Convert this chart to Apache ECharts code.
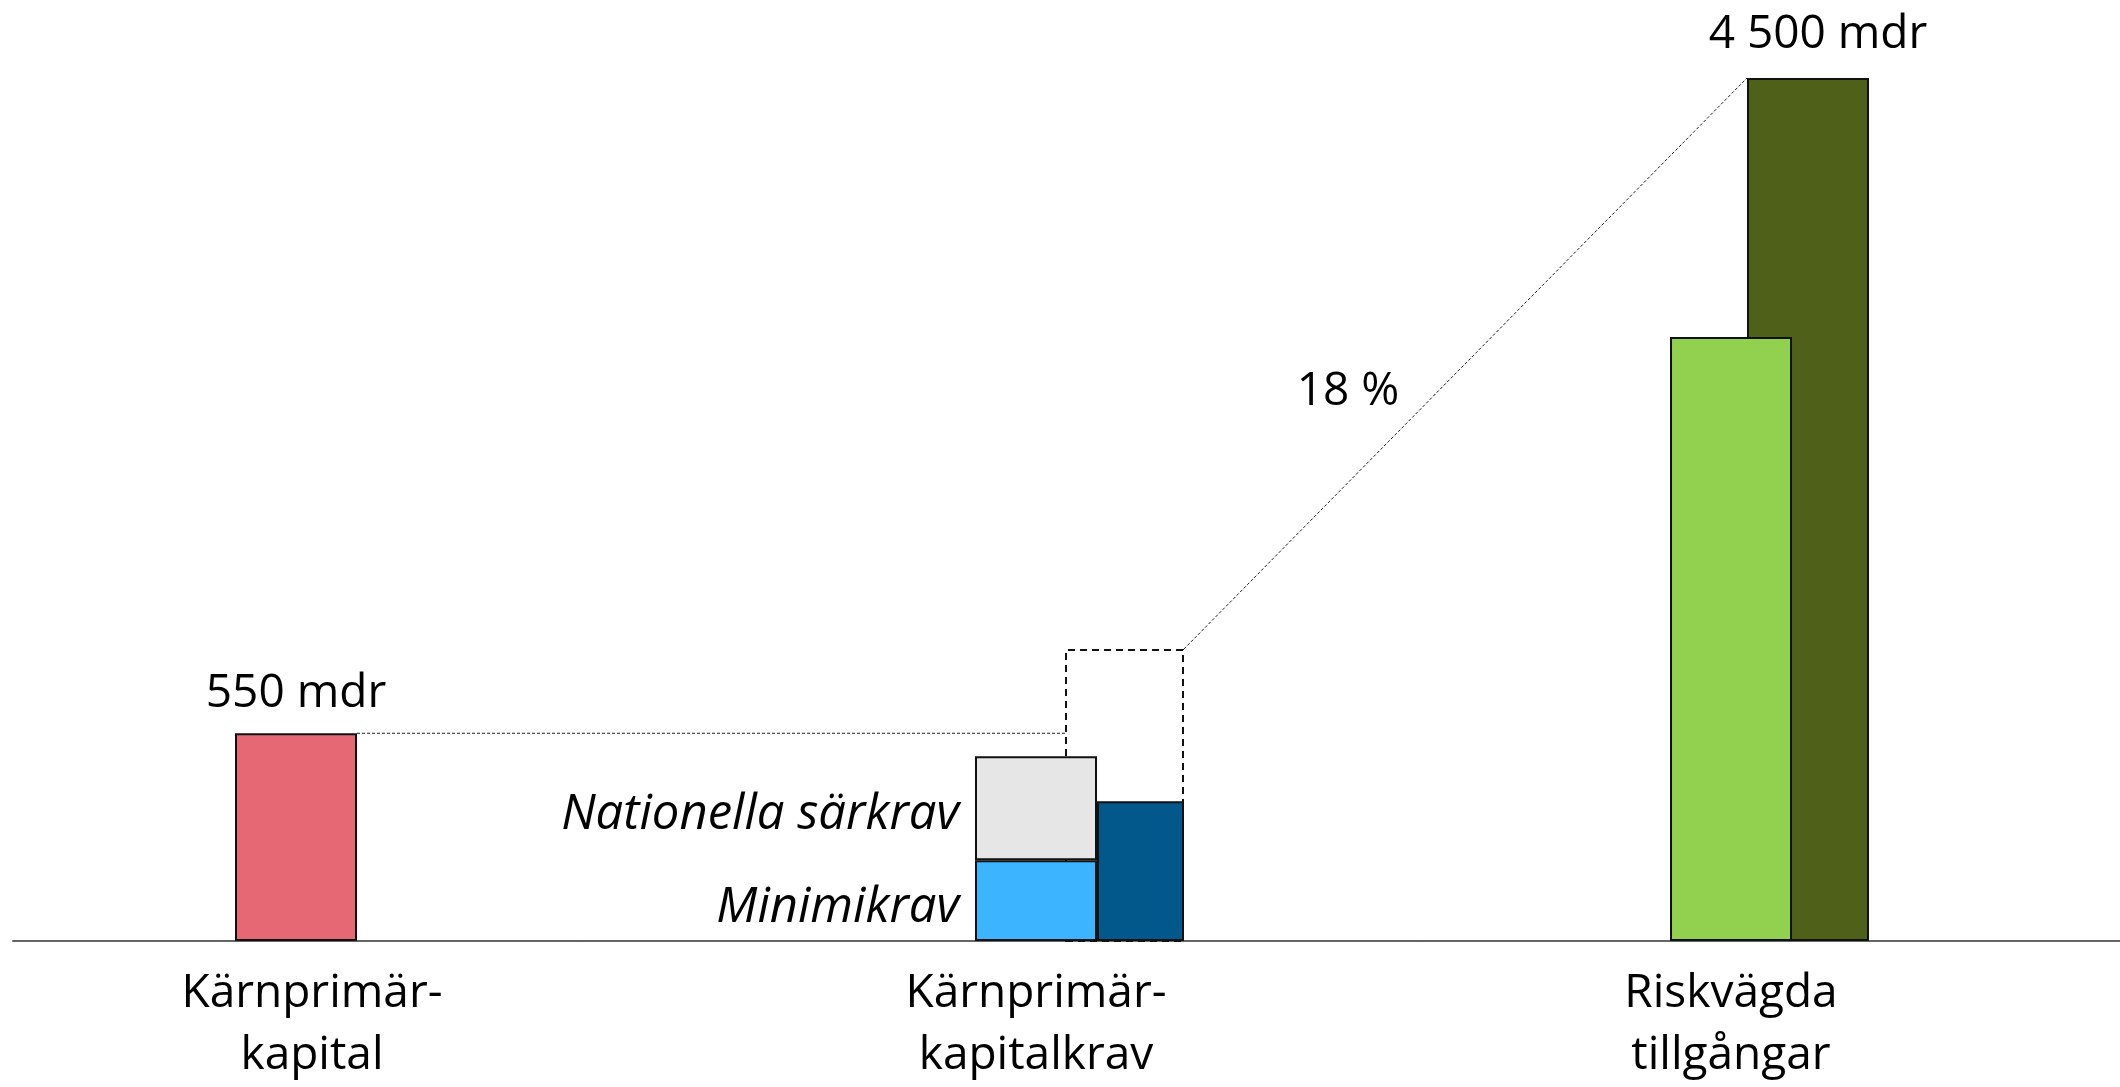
<!DOCTYPE html>
<html>
<head>
<meta charset="utf-8">
<script src="https://cdn.jsdelivr.net/npm/echarts@6/dist/echarts.min.js"></script>
<style>
  html, body { margin: 0; padding: 0; background: #fff; }
  #chart { width: 2120px; height: 1087px; }
</style>
</head>
<body>
<div id="chart"></div>
<script>
// kategorier (x-axel)
const categories = ['Kärnprimär-\nkapital', 'Kärnprimär-\nkapitalkrav', 'Riskvägda\ntillgångar'];

// värden, mdr kr (schematisk figur)
const karnprimarkapital = [550];
const minimikrav = [214];
const nationellaSarkrav = [275];
const kapitalkravOvrigt = [370];
const kapitalkrav18 = [775];   // streckad ruta
const riskvagdaNu = [3150];
const riskvagda = [4500];
const kravAndel = 18;          // procent

// två olika skalor i figuren
const capitalMax = 2285;
const rwaMax = 4500;

const font = '"Open Sans", "DejaVu Sans", sans-serif';
const border = { borderColor: '#111', borderWidth: 2 };

function mdr(v) {
  return String(v).replace(/\B(?=(\d{3})+(?!\d))/g, ' ') + ' mdr';
}

const chart = echarts.init(document.getElementById('chart'));

const gridBase = { top: 78, bottom: 145, containLabel: false };

function catAxis(gridIndex, idx, padding, show) {
  return {
    gridIndex: gridIndex,
    type: 'category',
    data: [categories[idx]],
    show: show,
    axisTick: { show: false },
    axisLine: { lineStyle: { color: '#666', width: 2 } },
    axisLabel: {
      color: '#000',
      fontFamily: font,
      fontSize: 46,
      lineHeight: 62,
      margin: 22,
      padding: padding
    }
  };
}

function valAxis(gridIndex, max) {
  return { gridIndex: gridIndex, type: 'value', min: 0, max: max, show: false };
}

const option = {
  backgroundColor: '#fff',
  animation: false,
  grid: [
    Object.assign({ left: 13, width: 566 }, gridBase),     // Kärnprimärkapital
    Object.assign({ left: 579, width: 1001 }, gridBase),   // kapitalkrav
    Object.assign({ left: 1419, width: 701 }, gridBase),   // riskvägda tillgångar
    Object.assign({ left: 1024, width: 201 }, gridBase)    // streckad ruta
  ],
  xAxis: [
    catAxis(0, 0, [0, 0, 0, 32], true),
    catAxis(1, 1, [0, 87, 0, 0], true),
    catAxis(2, 2, [0, 77, 0, 0], true),
    catAxis(3, 1, 0, false)
  ],
  yAxis: [
    valAxis(0, capitalMax),
    valAxis(1, capitalMax),
    valAxis(2, rwaMax),
    valAxis(3, capitalMax)
  ],
  series: [
    {
      name: 'Kärnprimärkapital',
      type: 'bar',
      xAxisIndex: 0, yAxisIndex: 0,
      data: karnprimarkapital,
      barWidth: 122,
      z: 2,
      itemStyle: Object.assign({ color: '#E66874' }, border),
      label: {
        show: true, position: 'top', distance: 16,
        formatter: p => mdr(p.value),
        color: '#000', fontFamily: font, fontSize: 46
      }
    },
    {
      name: 'Minimikrav',
      type: 'bar',
      xAxisIndex: 1, yAxisIndex: 1,
      stack: 'krav',
      data: minimikrav,
      barWidth: 122,
      barGap: '0%',
      z: 2,
      itemStyle: Object.assign({ color: '#3DB4FF' }, border),
      label: {
        show: true, position: 'left', distance: 16, offset: [0, 7],
        formatter: 'Minimikrav',
        color: '#000', fontFamily: font, fontSize: 49, fontStyle: 'italic'
      }
    },
    {
      name: 'Nationella särkrav',
      type: 'bar',
      xAxisIndex: 1, yAxisIndex: 1,
      stack: 'krav',
      data: nationellaSarkrav,
      barWidth: 122,
      barGap: '0%',
      z: 2,
      itemStyle: Object.assign({ color: '#E6E6E6' }, border),
      label: {
        show: true, position: 'left', distance: 16, offset: [0, 7],
        formatter: 'Nationella särkrav',
        color: '#000', fontFamily: font, fontSize: 49, fontStyle: 'italic'
      }
    },
    {
      name: 'Kapitalkrav',
      type: 'bar',
      xAxisIndex: 1, yAxisIndex: 1,
      data: kapitalkravOvrigt,
      barWidth: 87,
      barGap: '0%',
      z: 2,
      itemStyle: Object.assign({ color: '#02578B' }, border)
    },
    {
      name: 'Kapitalkrav 18 %',
      type: 'bar',
      xAxisIndex: 3, yAxisIndex: 3,
      data: kapitalkrav18,
      barWidth: 119,
      z: 1,
      itemStyle: { color: 'rgba(0,0,0,0)', borderColor: '#111', borderWidth: 2, borderType: [7, 5] }
    },
    {
      name: 'Riskvägda tillgångar idag',
      type: 'bar',
      xAxisIndex: 2, yAxisIndex: 2,
      data: riskvagdaNu,
      barWidth: 122,
      barGap: '-36.9%',
      z: 3,
      itemStyle: Object.assign({ color: '#92D050' }, border)
    },
    {
      name: 'Riskvägda tillgångar',
      type: 'bar',
      xAxisIndex: 2, yAxisIndex: 2,
      data: riskvagda,
      barWidth: 122,
      barGap: '-36.9%',
      z: 2,
      itemStyle: Object.assign({ color: '#4F6119' }, border),
      label: {
        show: true, position: 'top', distance: 20, offset: [10, 0],
        formatter: p => mdr(p.value),
        color: '#000', fontFamily: font, fontSize: 46
      }
    }
  ]
};

chart.setOption(option);

// hjälplinjer mellan staplarna, från bibliotekets egen layout
function rectOf(seriesIndex) {
  const l = chart.getModel().getSeriesByIndex(seriesIndex).getData().getItemLayout(0);
  return {
    left: Math.min(l.x, l.x + l.width),
    right: Math.max(l.x, l.x + l.width),
    top: Math.min(l.y, l.y + l.height)
  };
}

const red = rectOf(0);
const box = rectOf(4);
const rwa = rectOf(6);
const dotted = { stroke: '#222', lineWidth: 1, lineDash: [3, 2] };
const t = 0.45;
const mx = box.right + (rwa.left - box.right) * t;
const my = box.top + (rwa.top - box.top) * t;

chart.setOption({
  graphic: [
    { type: 'line', z: 5, shape: { x1: red.right, y1: red.top, x2: box.left, y2: red.top }, style: dotted },
    { type: 'line', z: 5, shape: { x1: box.right, y1: box.top, x2: rwa.left, y2: rwa.top }, style: dotted },
    {
      type: 'text', z: 5,
      x: mx - 38, y: my,
      style: {
        text: kravAndel + ' %',
        fill: '#000', font: '46px ' + font,
        align: 'right', verticalAlign: 'middle'
      }
    }
  ]
});
</script>
</body>
</html>
